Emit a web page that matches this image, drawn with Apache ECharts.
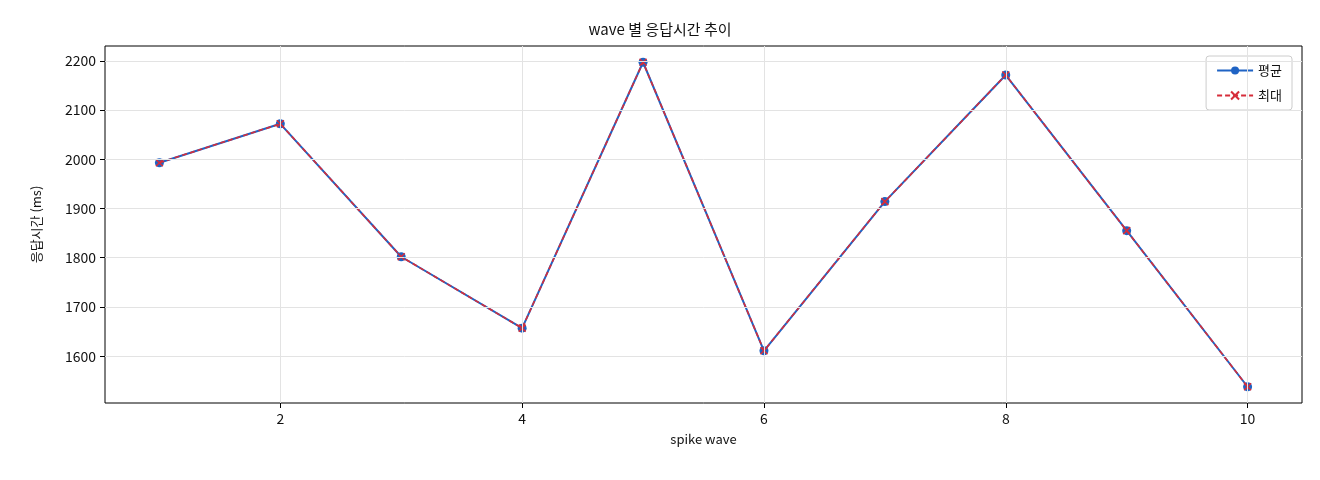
<!DOCTYPE html>
<html><head><meta charset="utf-8">
<script src="https://cdn.jsdelivr.net/npm/echarts@6/dist/echarts.min.js"></script>
<style>html,body{margin:0;background:#fff}#c{width:1320px;height:480px}</style>
</head><body><div id="c"></div>
<script>
const waves = [1,2,3,4,5,6,7,8,9,10];
const avgValues = [1993,2072,1802,1657,2197,1611,1914,2171,1855,1538];
const maxValues = [1993,2072,1802,1657,2197,1611,1914,2171,1855,1538];
const xTicks = [2,4,6,8,10];
const yTicks = [1600,1700,1800,1900,2000,2100,2200];
const font = "'Noto Sans CJK KR', 'DejaVu Sans', sans-serif";
const xPath = 'path://M0,0L10,10M10,0L0,10';
const chart = echarts.init(document.getElementById('c'));
const gridLine = {silent:true,symbol:'none',label:{show:false},lineStyle:{color:'#e3e3e3',type:'solid',width:1},
  data:[...xTicks.map(v=>({xAxis:v})),...yTicks.map(v=>({yAxis:v}))]};
chart.setOption({
  animation:false,
  textStyle:{fontFamily:font},
  title:{text:'wave 별 응답시간 추이',left:'center',top:17,textStyle:{fontSize:15,fontWeight:'normal',color:'#111',fontFamily:font}},
  grid:{left:105,right:18,top:46,bottom:77,show:true,borderColor:'#000',borderWidth:1},
  legend:{right:28,top:56,orient:'vertical',itemWidth:36,itemHeight:10,itemGap:12,padding:[8,10],
    borderColor:'#ccc',borderWidth:1,borderRadius:3,backgroundColor:'#fff',
    textStyle:{fontSize:13,color:'#111',fontFamily:font},
    data:[{name:'평균'},{name:'최대'}]},
  xAxis:{type:'value',min:0.55,max:10.45,name:'spike wave',nameLocation:'middle',nameGap:30,
    nameTextStyle:{fontSize:13,color:'#111'},
    axisLine:{show:false},splitLine:{show:false},
    axisTick:{show:true,customValues:xTicks,length:5,lineStyle:{color:'#000'}},
    axisLabel:{customValues:xTicks,fontSize:14,color:'#111',margin:9,formatter:v=>String(v)}},
  yAxis:{type:'value',min:1505,max:2230,name:'응답시간 (ms)',nameLocation:'middle',nameGap:62,
    nameTextStyle:{fontSize:13,color:'#111'},
    axisLine:{show:false},splitLine:{show:false},
    axisTick:{show:true,customValues:yTicks,length:5,lineStyle:{color:'#000'}},
    axisLabel:{customValues:yTicks,fontSize:14,color:'#111',margin:9,formatter:v=>String(v)}},
  series:[
    {name:'평균',type:'line',data:waves.map((w,i)=>[w,avgValues[i]]),symbol:'circle',symbolSize:9,
      itemStyle:{color:'#1f63c4'},lineStyle:{color:'#1f63c4',width:2},markLine:gridLine,z:3},
    {name:'최대',type:'line',data:waves.map((w,i)=>[w,maxValues[i]]),symbol:xPath,symbolSize:7,
      itemStyle:{color:'#d62d3a',borderColor:'#d62d3a',borderWidth:1.5},lineStyle:{color:'#d62d3a',width:1.6,type:[5,3]},z:4}
  ]
});
</script></body></html>
